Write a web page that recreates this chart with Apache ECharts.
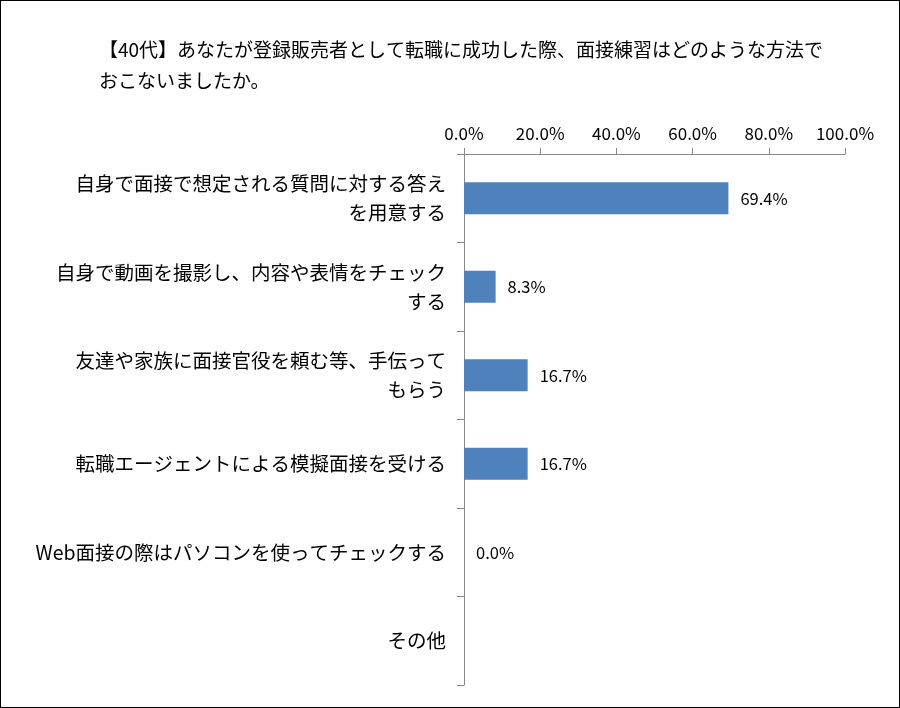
<!DOCTYPE html>
<html><head><meta charset="utf-8">
<script src="https://cdn.jsdelivr.net/npm/echarts@6/dist/echarts.min.js"></script>
<style>html,body{margin:0;padding:0;background:#fff}#c{width:900px;height:708px;box-sizing:border-box;border:1.5px solid #000}</style>
</head><body><div id="c"></div>
<script>
const titleText = '【40代】あなたが登録販売者として転職に成功した際、面接練習はどのような方法で\nおこないましたか。';
const categories = [
  '自身で面接で想定される質問に対する答え\nを用意する',
  '自身で動画を撮影し、内容や表情をチェック\nする',
  '友達や家族に面接官役を頼む等、手伝って\nもらう',
  '転職エージェントによる模擬面接を受ける',
  'Web面接の際はパソコンを使ってチェックする',
  'その他'
];
const values = [69.4, 8.3, 16.7, 16.7, 0.0, null];
const font = '"Noto Sans CJK JP", sans-serif';
const chart = echarts.init(document.getElementById('c'));
chart.setOption({
  animation: false,
  title: { text: titleText, left: 93, top: 28, textStyle: { fontFamily: font, fontSize: 19, fontWeight: 'normal', color: '#000', lineHeight: 31 } },
  grid: { left: 463, right: 54, top: 153, bottom: 22, containLabel: false },
  xAxis: {
    type: 'value', position: 'top', min: 0, max: 100, interval: 20,
    axisLine: { show: true, lineStyle: { color: '#888' } },
    axisTick: { show: true, length: 6, lineStyle: { color: '#888' } },
    splitLine: { show: false },
    axisLabel: { formatter: v => v.toFixed(1) + '%', fontFamily: font, fontSize: 17, color: '#000', margin: 12 }
  },
  yAxis: {
    type: 'category', inverse: true, data: categories,
    axisLine: { show: true, lineStyle: { color: '#888' } },
    axisTick: { show: true, length: 7, lineStyle: { color: '#888' } },
    axisLabel: { fontFamily: font, fontSize: 19.5, color: '#000', margin: 18, lineHeight: 29, align: 'right' }
  },
  series: [{
    type: 'bar', data: values, barWidth: 32,
    itemStyle: { color: '#4F81BD' },
    label: { show: true, position: 'right', distance: 12, fontFamily: font, fontSize: 16.5, color: '#000',
      formatter: p => p.value == null ? '' : p.value.toFixed(1) + '%' }
  }]
});
</script></body></html>
